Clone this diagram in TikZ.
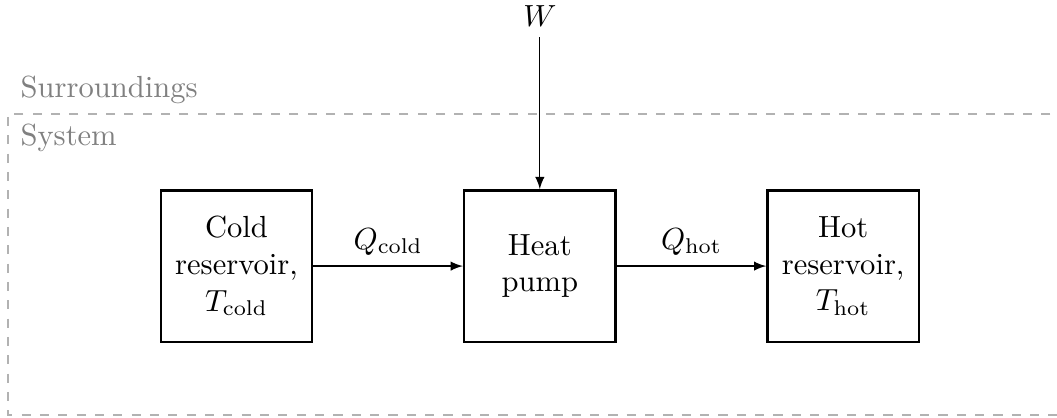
\documentclass[tikz,border=0pt]{standalone}
\usepackage{amsmath}
\usepackage{amssymb}
\usetikzlibrary{arrows,positioning}

\tikzset{
  block/.style={draw,thick,minimum width=1.74cm,minimum height=1.74cm,align=center},
  flow/.style={-latex},
  boundary/.style={draw=black!30,dashed},
  zonelabel/.style={text=black!50,anchor=base west,inner sep=0pt}
}

\begin{document}
\begin{tikzpicture}[node distance=1.72cm]
      \useasboundingbox (0,0) rectangle (12.156,-4.796);
      % system boundary, open to the right
      \coordinate (tr) at (12.5,-1.311);
      \coordinate (tl) at (0.092,-1.311);
      \coordinate (bl) at (0.092,-4.773);
      \coordinate (br) at (12.5,-4.773);
      \draw[boundary] (tr) -- (tl) -- (bl) -- (br);
      \node[zonelabel] (sur) at (0.23,-1.116) {Surroundings};
      \node[zonelabel] (sys) at (0.23,-1.679) {System};

      \node[block] (cold) at (2.72,-3.06) {Cold\\reservoir,\\$T_{\text{cold}}$};
      \node[block,right=of cold] (hp) {Heat\\pump};
      \node[block,right=of hp] (hot) {Hot\\reservoir,\\$T_{\text{hot}}$};
      \node[above=1.75cm of hp] (w) {$W$};

      \draw[flow] (cold) -- node[above] {$Q_{\text{cold}}$} (hp);
      \draw[flow] (hp) -- node[above] {$Q_{\text{hot}}$} (hot);
      \draw[flow] (w) -- (hp);
\end{tikzpicture}
\end{document}
